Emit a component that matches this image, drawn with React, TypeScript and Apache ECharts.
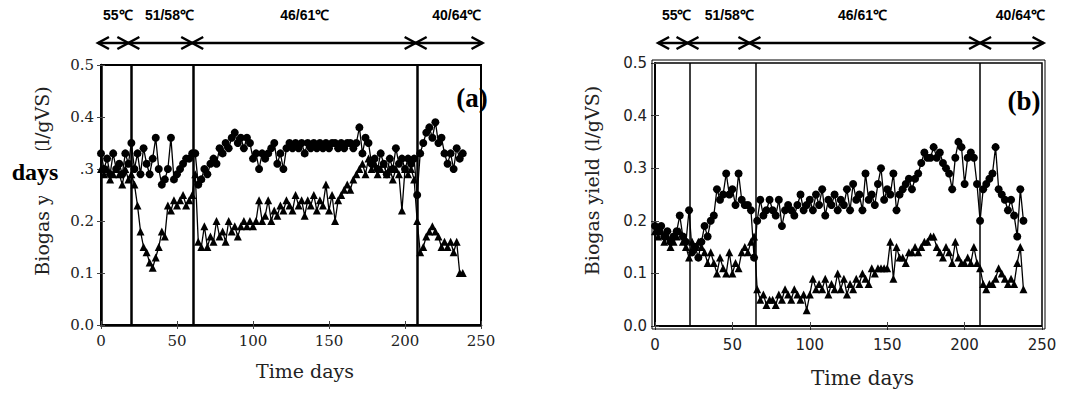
import React, { useEffect, useRef } from "react";
import * as echarts from "echarts";

// sampling days (every second day)
const DAYS = Array.from({ length: 120 }, (_, i) => i * 2);

// Panel (a): circles and triangles
const A_CIRCLE = [
  0.33, 0.30, 0.32, 0.29, 0.33, 0.30, 0.31, 0.29, 0.33, 0.31,
  0.35, 0.30, 0.33, 0.29, 0.34, 0.31, 0.29, 0.32, 0.36, 0.30,
  0.27, 0.28, 0.30, 0.36, 0.28, 0.29, 0.30, 0.31, 0.32, 0.32,
  0.33, 0.33, 0.27, 0.28, 0.30, 0.29, 0.31, 0.32, 0.31, 0.34,
  0.33, 0.35, 0.34, 0.36, 0.37, 0.35, 0.36, 0.34, 0.36, 0.35,
  0.32, 0.33, 0.30, 0.33, 0.32, 0.33, 0.34, 0.35, 0.31, 0.33,
  0.30, 0.34, 0.35, 0.34, 0.35, 0.34, 0.35, 0.33, 0.35, 0.34,
  0.35, 0.34, 0.35, 0.34, 0.35, 0.34, 0.35, 0.35, 0.34, 0.35,
  0.34, 0.35, 0.35, 0.34, 0.35, 0.38, 0.33, 0.36, 0.35, 0.31,
  0.32, 0.30, 0.33, 0.31, 0.29, 0.32, 0.30, 0.34, 0.31, 0.32,
  0.30, 0.32, 0.31, 0.32, 0.25, 0.33, 0.35, 0.37, 0.38, 0.36,
  0.39, 0.35, 0.36, 0.33, 0.31, 0.33, 0.30, 0.34, 0.32, 0.33,
];
const A_TRI = [
  0.30, 0.29, 0.30, 0.28, 0.29, 0.30, 0.29, 0.27, 0.30, 0.28,
  0.29, 0.27, 0.23, 0.18, 0.15, 0.14, 0.12, 0.11, 0.13, 0.15,
  0.18, 0.17, 0.23, 0.22, 0.24, 0.23, 0.24, 0.25, 0.23, 0.24,
  0.25, 0.29, 0.16, 0.15, 0.19, 0.15, 0.17, 0.16, 0.20, 0.17,
  0.18, 0.16, 0.20, 0.18, 0.19, 0.17, 0.19, 0.20, 0.19, 0.20,
  0.19, 0.20, 0.24, 0.20, 0.21, 0.24, 0.20, 0.22, 0.21, 0.23,
  0.22, 0.24, 0.23, 0.22, 0.25, 0.23, 0.24, 0.21, 0.24, 0.23,
  0.25, 0.22, 0.24, 0.23, 0.27, 0.22, 0.25, 0.20, 0.24, 0.25,
  0.26, 0.27, 0.26, 0.28, 0.29, 0.30, 0.31, 0.29, 0.32, 0.30,
  0.31, 0.29, 0.30, 0.31, 0.29, 0.30, 0.28, 0.30, 0.29, 0.22,
  0.30, 0.29, 0.30, 0.28, 0.20, 0.14, 0.15, 0.17, 0.18, 0.19,
  0.18, 0.17, 0.15, 0.16, 0.15, 0.16, 0.14, 0.16, 0.10, 0.10,
];

// Panel (b): circles and triangles
const B_CIRCLE = [
  0.19, 0.18, 0.19, 0.17, 0.18, 0.16, 0.17, 0.18, 0.21, 0.17,
  0.16, 0.22, 0.14, 0.15, 0.13, 0.16, 0.19, 0.17, 0.20, 0.21,
  0.26, 0.24, 0.25, 0.29, 0.25, 0.26, 0.23, 0.29, 0.24, 0.23,
  0.23, 0.22, 0.13, 0.20, 0.24, 0.21, 0.22, 0.24, 0.22, 0.21,
  0.24, 0.19, 0.22, 0.23, 0.22, 0.21, 0.23, 0.25, 0.22, 0.23,
  0.24, 0.22, 0.25, 0.23, 0.26, 0.21, 0.24, 0.23, 0.25, 0.22,
  0.24, 0.23, 0.26, 0.22, 0.27, 0.24, 0.25, 0.22, 0.29, 0.24,
  0.25, 0.23, 0.27, 0.30, 0.24, 0.26, 0.25, 0.29, 0.22, 0.25,
  0.26, 0.27, 0.28, 0.26, 0.28, 0.29, 0.31, 0.33, 0.32, 0.32,
  0.34, 0.32, 0.33, 0.31, 0.30, 0.29, 0.26, 0.32, 0.35, 0.34,
  0.27, 0.32, 0.33, 0.32, 0.27, 0.20, 0.26, 0.27, 0.28, 0.29,
  0.34, 0.26, 0.25, 0.24, 0.22, 0.24, 0.21, 0.17, 0.26, 0.20,
];
const B_TRI = [
  0.18, 0.17, 0.18, 0.16, 0.17, 0.15, 0.16, 0.17, 0.18, 0.16,
  0.15, 0.13, 0.16, 0.15, 0.16, 0.15, 0.14, 0.12, 0.14, 0.12,
  0.10, 0.13, 0.11, 0.10, 0.14, 0.10, 0.12, 0.11, 0.14, 0.15,
  0.14, 0.16, 0.17, 0.07, 0.05, 0.06, 0.04, 0.05, 0.05, 0.04,
  0.06, 0.05, 0.07, 0.06, 0.05, 0.07, 0.06, 0.05, 0.06, 0.03,
  0.06, 0.09, 0.07, 0.08, 0.07, 0.09, 0.06, 0.08, 0.07, 0.10,
  0.07, 0.09, 0.06, 0.08, 0.07, 0.09, 0.08, 0.10, 0.09, 0.08,
  0.11, 0.10, 0.11, 0.11, 0.11, 0.11, 0.16, 0.09, 0.15, 0.13,
  0.13, 0.12, 0.14, 0.14, 0.15, 0.14, 0.15, 0.16, 0.16, 0.17,
  0.17, 0.15, 0.14, 0.13, 0.15, 0.14, 0.12, 0.16, 0.13, 0.12,
  0.12, 0.13, 0.12, 0.15, 0.12, 0.11, 0.08, 0.07, 0.08, 0.08,
  0.09, 0.11, 0.10, 0.09, 0.08, 0.09, 0.08, 0.12, 0.15, 0.07,
];

// Temperature periods (annotations)
const PERIOD_LABELS = ["55℃", "51/58℃", "46/61℃", "40/64℃"];
const A_BOUNDS = [-2, 18, 60, 207, 251];
const B_BOUNDS = [2, 21, 61, 210, 251];
const A_LABEL_DAYS = [11, 45, 134, 234];
const B_LABEL_DAYS = [14, 48, 134, 236];
const A_LINES = [20, 61, 208];
const B_LINES = [22.5, 65, 210];

const GA = { left: 101, top: 65, width: 380, height: 260 };
const GB = { left: 655, top: 63, width: 387, height: 263 };

const serifA = "DejaVu Serif";
const sansB = "DejaVu Sans";

function pairs(vals: number[]) {
  return DAYS.map((d, i) => [d, vals[i]]);
}

export default function App() {
  const ref = useRef<HTMLDivElement>(null);
  useEffect(() => {
    document.body.style.margin = "0";
    const chart = echarts.init(ref.current!, null, { renderer: "svg" });
    const fmt = (v: number) => v.toFixed(1);
    const mkX = (gi: number, font: string, size: number, margin: number, name: string, nameGap: number, nameFont: string, nameSize: number, lw: number) => [
      {
        type: "value", gridIndex: gi, min: 0, max: 250, interval: 50,
        axisLine: { show: true, lineStyle: { color: "#000", width: lw } },
        axisTick: { show: true, inside: true, length: 4, lineStyle: { color: "#444" } },
        axisLabel: { fontFamily: font, fontSize: size, color: "#222", margin },
        splitLine: { show: false },
        name, nameLocation: "middle", nameGap,
        nameTextStyle: { fontFamily: nameFont, fontSize: nameSize, color: "#222", padding: [0, 0, 0, 28] },
      },
      {
        type: "value", gridIndex: gi, position: "top", min: 0, max: 250, interval: 50,
        axisLine: { show: true, lineStyle: { color: "#000", width: 1.5 } },
        axisTick: { show: true, inside: true, length: 4, lineStyle: { color: "#444" } },
        axisLabel: { show: false }, splitLine: { show: false },
      },
    ];
    const mkY = (gi: number, font: string, size: number, margin: number, nameGap: number, nameFont: string, nameSize: number, lw: number) => [
      {
        type: "value", gridIndex: gi, min: 0, max: 0.5, interval: 0.1,
        axisLine: { show: true, lineStyle: { color: "#000", width: lw } },
        axisTick: { show: true, inside: true, length: 4, lineStyle: { color: "#444" } },
        axisLabel: { fontFamily: font, fontSize: size, color: "#222", margin, formatter: fmt },
        splitLine: { show: false },
        name: "Biogas yield (l/gVS)", nameLocation: "middle", nameGap, nameRotate: 90,
        nameTextStyle: { fontFamily: nameFont, fontSize: nameSize, color: "#222", padding: [0, 0, 0, 28] },
      },
      {
        type: "value", gridIndex: gi, position: "right", min: 0, max: 0.5, interval: 0.1,
        axisLine: { show: true, lineStyle: { color: "#000", width: 1.5 } },
        axisTick: { show: true, inside: true, length: 4, lineStyle: { color: "#444" } },
        axisLabel: { show: false }, splitLine: { show: false },
      },
    ];
    const lineSeries = (xi: number, yi: number, vals: number[], symbol: string, size: number, extra: any = {}) => ({
      type: "line", xAxisIndex: xi, yAxisIndex: yi, data: pairs(vals),
      symbol, symbolSize: size, showSymbol: true, showAllSymbol: true,
      itemStyle: { color: "#000" }, lineStyle: { color: "#000", width: 1.3 },
      ...extra,
    });
    const mark = (lines: number[], w: number) => ({
      markLine: {
        silent: true, symbol: ["none", "none"], label: { show: false },
        lineStyle: { color: "#000", width: w, type: "solid" },
        data: lines.map((x) => ({ xAxis: x })),
      },
    });
    chart.setOption({
      animation: false,
      backgroundColor: "#fff",
      grid: [
        { ...GA, show: true, borderColor: "#000", borderWidth: 2 },
        { ...GB, show: true, borderColor: "#000", borderWidth: 1.5 },
      ],
      xAxis: [
        ...mkX(0, serifA, 15, 8, "Time days", 36, serifA, 19, 2.5),
        ...mkX(1, sansB, 15, 11, "Time days", 42, serifA, 20, 1.5),
      ],
      yAxis: [
        ...mkY(0, serifA, 15, 7, 50, serifA, 19, 2.5),
        ...mkY(1, sansB, 15, 8, 54, serifA, 19, 1.5),
      ],
      series: [
        lineSeries(0, 0, A_CIRCLE, "circle", 8, mark(A_LINES, 2.5)),
        lineSeries(0, 0, A_TRI, "triangle", 8),
        lineSeries(2, 2, B_CIRCLE, "circle", 8, mark(B_LINES, 1.5)),
        lineSeries(2, 2, B_TRI, "triangle", 8),
      ],
    });

    const graphics: any[] = [];
    const arrowY = 43;
    const addArrows = (xi: number, bounds: number[], labelDays: number[]) => {
      const px = (d: number) => chart.convertToPixel({ xAxisIndex: xi }, d) as number;
      for (let i = 0; i < bounds.length - 1; i++) {
        const x1 = px(bounds[i]);
        const x2 = px(bounds[i + 1]);
        const st = { stroke: "#000", lineWidth: 2.5, fill: "none" };
        graphics.push({ type: "line", shape: { x1, y1: arrowY, x2, y2: arrowY }, style: st });
        graphics.push({ type: "polyline", shape: { points: [[x1 + 11, arrowY - 6], [x1, arrowY], [x1 + 11, arrowY + 6]] }, style: st });
        graphics.push({ type: "polyline", shape: { points: [[x2 - 11, arrowY - 6], [x2, arrowY], [x2 - 11, arrowY + 6]] }, style: st });
      }
      labelDays.forEach((d, i) => {
        graphics.push({
          type: "text", x: px(d), y: 15,
          style: { text: PERIOD_LABELS[i], fontFamily: "Liberation Sans", fontWeight: "bold", fontSize: 14, fill: "#000", align: "center", verticalAlign: "middle" },
        });
      });
    };
    addArrows(0, A_BOUNDS, A_LABEL_DAYS);
    addArrows(2, B_BOUNDS, B_LABEL_DAYS);
    // panel tags
    graphics.push({ type: "text", x: 472, y: 98, z: 100, style: { text: "(a)", fontFamily: "Liberation Serif", fontWeight: "bold", fontSize: 27, fill: "#000", align: "center", verticalAlign: "middle" } });
    graphics.push({ type: "text", x: 1024, y: 101, z: 100, style: { text: "(b)", fontFamily: "Liberation Serif", fontWeight: "bold", fontSize: 27, fill: "#000", align: "center", verticalAlign: "middle" } });
    // stray "days" overlay on panel (a)'s axis title
    graphics.push({ type: "rect", z: 100, shape: { x: 0, y: 150, width: 81, height: 46 }, style: { fill: "#fff" } });
    graphics.push({ type: "text", x: 35, y: 172, z: 101, style: { text: "days", fontFamily: "Liberation Serif", fontWeight: "bold", fontSize: 24, fill: "#000", align: "center", verticalAlign: "middle" } });
    // double frame of panel (b)
    graphics.push({ type: "rect", z: 50, shape: { x: GB.left - 3, y: GB.top - 3, width: GB.width + 6, height: GB.height + 6 }, style: { fill: "none", stroke: "#000", lineWidth: 1 } });
    chart.setOption({ graphic: graphics });
    return () => chart.dispose();
  }, []);
  return <div ref={ref} style={{ width: 1075, height: 394 }} />;
}
